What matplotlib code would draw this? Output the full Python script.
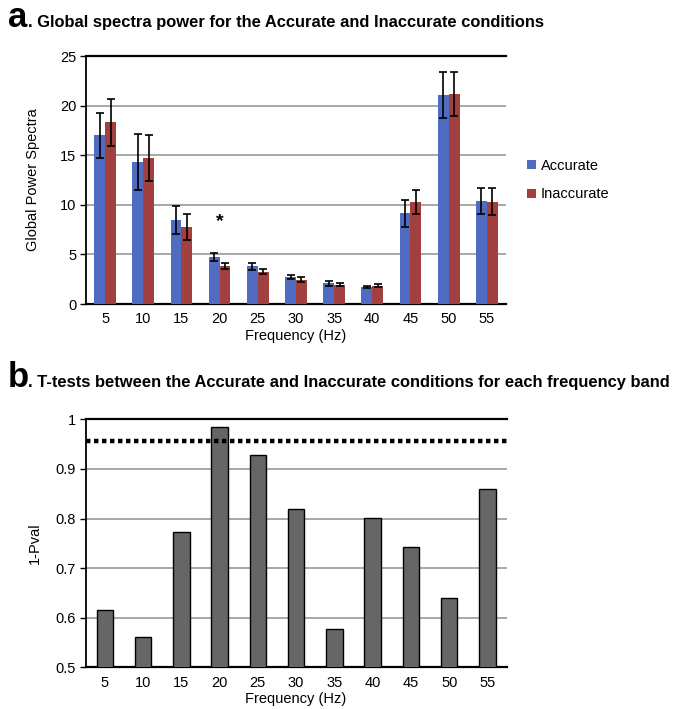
import matplotlib
matplotlib.use("Agg")
import matplotlib.pyplot as plt
import numpy as np

freqs = [5, 10, 15, 20, 25, 30, 35, 40, 45, 50, 55]
accurate = [17.0, 14.3, 8.5, 4.7, 3.8, 2.75, 2.1, 1.7, 9.15, 21.1, 10.4]
accurate_err = [2.3, 2.8, 1.4, 0.4, 0.35, 0.2, 0.25, 0.1, 1.35, 2.3, 1.3]
inaccurate = [18.3, 14.75, 7.8, 3.85, 3.25, 2.45, 1.95, 1.85, 10.3, 21.2, 10.3]
inaccurate_err = [2.35, 2.3, 1.3, 0.3, 0.25, 0.25, 0.15, 0.15, 1.2, 2.2, 1.35]
one_minus_p = [0.616, 0.562, 0.773, 0.985, 0.928, 0.819, 0.577, 0.802, 0.743, 0.639, 0.859]
threshold = 0.957
sig_band = 20

plt.rcParams["font.family"] = ["Liberation Sans", "DejaVu Sans"]

fig = plt.figure(figsize=(6.74, 7.09), dpi=100)

blue = "#4f6cc0"
red = "#a2403f"
grid = "#9a9a9a"

x = np.arange(len(freqs))


def style_axes(ax):
    ax.set_xlim(-0.5, len(freqs) - 0.5)
    ax.set_xticks(x)
    ax.set_xticklabels([str(f) for f in freqs])
    ax.yaxis.grid(True, color=grid, linewidth=1.2, zorder=0)
    ax.set_axisbelow(True)
    ax.spines["right"].set_visible(False)
    ax.spines["top"].set_linewidth(1.6)
    ax.spines["left"].set_linewidth(1.3)
    ax.spines["bottom"].set_linewidth(1.6)
    ax.tick_params(axis="x", length=0, labelsize=10.5, pad=6)
    ax.tick_params(axis="y", length=4, width=1.0, labelsize=10.5, pad=3)


# panel a
ax1 = fig.add_axes([0.1276, 0.5712, 0.623, 0.3498])
w = 0.285
ekw = dict(elinewidth=1.2, capthick=1.2, ecolor="black")
ax1.bar(x - w / 2, accurate, w, color=blue, yerr=accurate_err, capsize=3,
        error_kw=ekw, label="Accurate", zorder=3)
ax1.bar(x + w / 2, inaccurate, w, color=red, yerr=inaccurate_err, capsize=3,
        error_kw=ekw, label="Inaccurate", zorder=3)
style_axes(ax1)
ax1.set_ylim(0, 25)
ax1.set_yticks([0, 5, 10, 15, 20, 25])
ax1.set_ylabel("Global Power Spectra", fontsize=10.5, labelpad=14)
ax1.set_xlabel("Frequency (Hz)", fontsize=10.5, labelpad=2)
i = freqs.index(sig_band)
ax1.text(x[i], 8.3, "*", ha="center", va="center", fontsize=14, fontweight="bold")
ax1.legend(loc="center left", bbox_to_anchor=(1.02, 0.5), frameon=False, fontsize=10.5,
           handlelength=0.6, handleheight=0.6, handletextpad=0.3, labelspacing=1.0)

# panel b
ax2 = fig.add_axes([0.127, 0.0588, 0.6246, 0.3498])
ax2.bar(x, one_minus_p, 0.43, color="#666666", edgecolor="black", linewidth=1.0, zorder=3)
ax2.axhline(threshold, color="black", linestyle=(0, (1, 0.8)), linewidth=3.2, zorder=4)
style_axes(ax2)
ax2.set_ylim(0.5, 1.0)
ax2.set_yticks([0.5, 0.6, 0.7, 0.8, 0.9, 1.0])
ax2.set_yticklabels(["0.5", "0.6", "0.7", "0.8", "0.9", "1"])
ax2.set_ylabel("1-Pval", fontsize=10.5, labelpad=10)
ax2.set_xlabel("Frequency (Hz)", fontsize=10.5, labelpad=2)

# panel titles
fig.text(0.012, 0.962, "a", fontsize=25, fontweight="bold", va="baseline")
fig.text(0.041, 0.962, ". Global spectra power for the Accurate and Inaccurate conditions",
         fontsize=11.9, fontweight="bold", va="baseline")
fig.text(0.012, 0.454, "b", fontsize=25, fontweight="bold", va="baseline")
fig.text(0.041, 0.454, ". T-tests between the Accurate and Inaccurate conditions for each frequency band",
         fontsize=11.9, fontweight="bold", va="baseline")

fig.savefig("out.png", dpi=100)
